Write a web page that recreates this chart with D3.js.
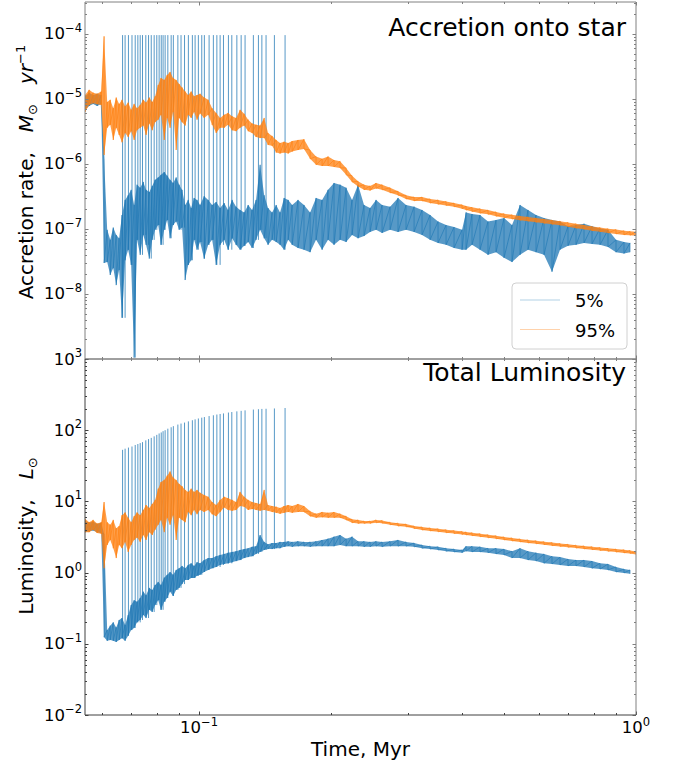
<!DOCTYPE html>
<html>
<head>
<meta charset="utf-8">
<script src="https://cdnjs.cloudflare.com/ajax/libs/d3/7.8.5/d3.min.js"></script>
<style>
body { margin: 0; background: #fff; }
svg text { font-family: "DejaVu Sans", sans-serif; fill: #000; }
</style>
</head>
<body>
<div id="chart"></div>
<script>
// Values. Each series is kept as the low / high edge of its
// noise band at every sampled time (Myr).
const time = [
  0.0548, 0.0560, 0.0572, 0.0584, 0.0597, 0.0606, 0.0616, 0.0626, 0.0636, 0.0646,
  0.0656, 0.0666, 0.0677, 0.0688, 0.0699, 0.0710, 0.0721, 0.0733, 0.0745, 0.0756,
  0.0769, 0.0781, 0.0793, 0.0806, 0.0818, 0.0832, 0.0845, 0.0858, 0.0872, 0.0886,
  0.0900, 0.0914, 0.0929, 0.0944, 0.0959, 0.0974, 0.0989, 0.1005, 0.1027, 0.1049,
  0.1071, 0.1094, 0.1117, 0.1141, 0.1165, 0.1190, 0.1215, 0.1241, 0.1268, 0.1295,
  0.1322, 0.1350, 0.1379, 0.1409, 0.1438, 0.1469, 0.1501, 0.1532, 0.1565, 0.1599,
  0.1633, 0.1684, 0.1738, 0.1795, 0.1852, 0.1912, 0.1973, 0.2036, 0.2102, 0.2170,
  0.2239, 0.2311, 0.2385, 0.2462, 0.2541, 0.2623, 0.2736, 0.2853, 0.2976, 0.3105,
  0.3238, 0.3378, 0.3523, 0.3675, 0.3833, 0.3998, 0.4083, 0.4214, 0.4395, 0.4584,
  0.4782, 0.4988, 0.5202, 0.5427, 0.5660, 0.5904, 0.6158, 0.6423, 0.6700, 0.6988,
  0.7289, 0.7603, 0.7931, 0.8272, 0.8628, 0.9000, 0.9387, 0.9689, 1.0
];

// accretion rate, 95%
const acc95Hi = [
  1.15e-5, 1.38e-5, 1.25e-5, 1.2e-5, 1.3e-5, 9.2e-5, 9e-6, 9.7e-6, 7.2e-6, 1.05e-5,
  8.4e-6, 9.7e-6, 7.7e-6, 8.8e-6, 6.8e-6, 8.4e-6, 7.2e-6, 8.1e-6, 9.7e-6, 8.8e-6,
  1.05e-5, 9e-6, 1.1e-5, 1.64e-5, 2.1e-5, 1.96e-5, 2.34e-5, 2.6e-5, 2.1e-5, 1.96e-5,
  1.7e-5, 1.5e-5, 1.3e-5, 1.15e-5, 1.3e-5, 1.1e-5, 1.15e-5, 1.2e-5, 1.05e-5, 9.7e-6,
  7.2e-6, 6.1e-6, 5.1e-6, 5.7e-6, 6.1e-6, 5.4e-6, 5.1e-6, 6.8e-6, 5.9e-6, 4.8e-6,
  4.2e-6, 4e-6, 3.9e-6, 5.1e-6, 3e-6, 2.7e-6, 2.34e-6, 2.1e-6, 2.2e-6, 2.1e-6,
  2.25e-6, 2.34e-6, 2.4e-6, 1.64e-6, 1.3e-6, 1.2e-6, 1.3e-6, 1.15e-6, 1.1e-6, 8.7e-7,
  6.6e-7, 5.4e-7, 4.8e-7, 4.6e-7, 5.1e-7, 4.8e-7, 4.3e-7, 3.8e-7, 3.3e-7, 3.1e-7,
  3.1e-7, 2.9e-7, 2.8e-7, 2.65e-7, 2.5e-7, 2.35e-7, 2.25e-7, 2.15e-7, 2.05e-7, 1.95e-7,
  1.83e-7, 1.72e-7, 1.65e-7, 1.58e-7, 1.53e-7, 1.47e-7, 1.42e-7, 1.37e-7, 1.32e-7, 1.26e-7,
  1.2e-7, 1.15e-7, 1.09e-7, 1.05e-7, 1.01e-7, 9.8e-8, 9.4e-8, 9.2e-8, 9.1e-8
];
const acc95Lo = [
  6.3e-6, 8.1e-6, 8.6e-6, 8.3e-6, 8.1e-6, 1.37e-6, 3.6e-6, 4e-6, 2.34e-6, 3.6e-6,
  2.8e-6, 2.15e-6, 3e-6, 2.6e-6, 3.2e-6, 2.34e-6, 3.3e-6, 3.6e-6, 3.9e-6, 2.8e-6,
  4.2e-6, 3.3e-6, 4.4e-6, 4.8e-6, 5.7e-6, 2.34e-6, 5.1e-6, 3.6e-6, 6.3e-6, 1.64e-6,
  5.1e-6, 4.4e-6, 3.9e-6, 5.7e-6, 5.1e-6, 6.3e-6, 4.8e-6, 6e-6, 5.1e-6, 5.7e-6,
  4e-6, 3e-6, 3.6e-6, 3.6e-6, 4e-6, 3.3e-6, 3.2e-6, 3.6e-6, 3.9e-6, 3.2e-6,
  3e-6, 2.6e-6, 2.5e-6, 2.5e-6, 1.96e-6, 1.9e-6, 1.5e-6, 1.45e-6, 1.5e-6, 1.45e-6,
  1.55e-6, 1.64e-6, 1.7e-6, 1.2e-6, 9.7e-7, 9.3e-7, 9.3e-7, 9e-7, 8.7e-7, 6.8e-7,
  5.3e-7, 4.5e-7, 4e-7, 3.9e-7, 4.2e-7, 4e-7, 3.6e-7, 3.3e-7, 2.9e-7, 2.7e-7,
  2.7e-7, 2.5e-7, 2.4e-7, 2.3e-7, 2.2e-7, 2.05e-7, 1.95e-7, 1.85e-7, 1.75e-7, 1.68e-7,
  1.57e-7, 1.49e-7, 1.42e-7, 1.36e-7, 1.32e-7, 1.27e-7, 1.22e-7, 1.18e-7, 1.14e-7, 1.08e-7,
  1.03e-7, 9.9e-8, 9.4e-8, 9.1e-8, 8.7e-8, 8.4e-8, 8.1e-8, 8.0e-8, 7.9e-8
];

// accretion rate, 5%
const acc5Hi = [
  1.1e-5, 1.25e-5, 1.15e-5, 1.2e-5, 1.15e-5, 1.2e-6, 9.7e-8, 6.8e-8, 1.05e-7, 8.1e-8,
  7.2e-8, 1.64e-7, 2.8e-7, 3.3e-7, 4.0e-7, 2.34e-7, 4.8e-7, 4.3e-7, 5.3e-7, 4.0e-7,
  3.7e-7, 4.6e-7, 5.7e-7, 6.2e-7, 6.8e-7, 7.5e-7, 6.6e-7, 5.7e-7, 5.1e-7, 6.2e-7,
  4.8e-7, 4.0e-7, 2.34e-7, 2.8e-7, 2.1e-7, 3.0e-7, 2.8e-7, 2.34e-7, 3.2e-7, 2.8e-7,
  2.34e-7, 2.6e-7, 2.1e-7, 2.5e-7, 1.96e-7, 2.8e-7, 2.2e-7, 1.96e-7, 1.8e-7, 2.34e-7,
  1.96e-7, 2.8e-7, 9.7e-7, 3.3e-7, 2.1e-7, 1.8e-7, 2.34e-7, 1.8e-7, 3.0e-7, 2.8e-7,
  2.34e-7, 2.8e-7, 2.34e-7, 1.8e-7, 3.0e-7, 2.8e-7, 4.0e-7, 5.1e-7, 4.8e-7, 4.3e-7,
  2.8e-7, 4.8e-7, 2.34e-7, 2.1e-7, 2.8e-7, 2.34e-7, 2.2e-7, 3.0e-7, 2.34e-7, 2.2e-7,
  1.96e-7, 1.64e-7, 1.3e-7, 1.15e-7, 1.07e-7, 9.7e-8, 1.8e-7, 1.7e-7, 1.64e-7, 1.3e-7,
  1.37e-7, 1.47e-7, 1.15e-7, 2.34e-7, 1.96e-7, 1.64e-7, 1.47e-7, 1.37e-7, 1.3e-7, 1.1e-7,
  1.15e-7, 1.2e-7, 1.1e-7, 1.02e-7, 9.7e-8, 6.8e-8, 6.3e-8, 6.1e-8, null
];
const acc5Lo = [
  6.8e-6, 7.8e-6, 8.4e-6, 7.8e-6, 8.4e-6, 3e-8, 3.1e-8, 1.96e-8, 2.5e-8, 1.37e-8,
  2.34e-8, 4.3e-9, 3.3e-8, 4.8e-8, 2.8e-8, 1.05e-9, 6.8e-8, 4.0e-8, 8.1e-8, 5.7e-8,
  3.5e-8, 6.8e-8, 9.7e-8, 1.15e-7, 5.7e-8, 9.7e-8, 1.37e-7, 7.2e-8, 1.15e-7, 1.3e-7,
  9.7e-8, 1.05e-7, 1.64e-8, 2.8e-8, 3.3e-8, 6.8e-8, 4.8e-8, 6.3e-8, 3.5e-8, 5.7e-8,
  6.8e-8, 2.8e-8, 5.7e-8, 6.8e-8, 4.8e-8, 7.2e-8, 5.7e-8, 4.8e-8, 5.5e-8, 6.3e-8,
  5.1e-8, 6.8e-8, 9.7e-8, 7.2e-8, 5.7e-8, 6.8e-8, 6.3e-8, 5.7e-8, 4.8e-8, 6.8e-8,
  5.7e-8, 5.1e-8, 4.8e-8, 4.4e-8, 6.8e-8, 4.8e-8, 6.8e-8, 5.7e-8, 6.8e-8, 6.3e-8,
  8.1e-8, 7.2e-8, 7.8e-8, 9e-8, 9.7e-8, 8.7e-8, 9.7e-8, 9e-8, 9.7e-8, 9e-8,
  8.1e-8, 6.8e-8, 6.1e-8, 5.7e-8, 5.1e-8, 4.8e-8, 4.8e-8, 5.7e-8, 4.8e-8, 4.0e-8,
  4.4e-8, 3.6e-8, 3.1e-8, 4.0e-8, 4.8e-8, 4.4e-8, 4.0e-8, 2.2e-8, 4.8e-8, 5.5e-8,
  5.7e-8, 6.1e-8, 5.9e-8, 5.7e-8, 5.3e-8, 4.4e-8, 4.2e-8, 4.4e-8, null
];

// total luminosity, 95%
const lum95Hi = [
  5.7, 5.1, 5.5, 4.9, 5.1, 9.8, 5.1, 4.7, 5.5, 4.2,
  4.5, 6.4, 7.0, 5.9, 5.1, 6.2, 7.0, 6.4, 7.6, 8.9,
  8.1, 9.2, 10.5, 15.1, 18.7, 20, 23, 26.3, 21.6, 20,
  17.6, 16.3, 14.5, 13.6, 15.1, 13.6, 14.5, 13.2, 12.3, 11.6,
  9.8, 8.9, 10.5, 11.6, 11.1, 10.5, 9.8, 13.6, 11.6, 10.5,
  9.8, 9.5, 9.2, 14.5, 8.9, 8.6, 8.4, 8.1, 8.6, 8.9,
  8.6, 9.2, 8.6, 7.3, 6.7, 7.1, 6.9, 7.1, 6.7, 6.2,
  5.6, 5.5, 5.3, 5.3, 5.5, 5.4, 5.1, 4.95, 4.8, 4.5,
  4.37, 4.24, 4.12, 4.0, 3.89, 3.78, 3.73, 3.63, 3.52, 3.40,
  3.29, 3.17, 3.07, 2.97, 2.88, 2.80, 2.72, 2.64, 2.56, 2.50,
  2.43, 2.37, 2.31, 2.25, 2.19, 2.14, 2.09, 2.05, 1.98
];
const lum95Lo = [
  3.7, 3.7, 4.0, 3.6, 3.5, 1.15, 2.44, 2.87, 2.2, 1.6,
  2.44, 2.2, 2.7, 1.95, 2.44, 2.87, 3.1, 2.7, 3.37, 2.87,
  3.7, 3.37, 4.0, 4.7, 5.5, 3.7, 5.9, 4.7, 6.4, 2.87,
  5.9, 5.5, 5.1, 7.1, 6.4, 7.6, 6.6, 7.6, 7.1, 7.6,
  6.6, 6.2, 7.1, 8.2, 7.6, 7.4, 7.6, 8.6, 8.4, 7.6,
  7.8, 7.6, 7.4, 7.6, 7.4, 7.1, 6.9, 6.7, 6.9, 7.1,
  6.9, 7.1, 7.1, 6.2, 5.9, 6.0, 5.9, 5.9, 5.9, 5.5,
  5.0, 4.9, 4.9, 4.9, 5.0, 4.95, 4.7, 4.5, 4.4, 4.15,
  3.96, 3.85, 3.74, 3.63, 3.53, 3.43, 3.38, 3.30, 3.19, 3.08,
  2.98, 2.88, 2.78, 2.70, 2.61, 2.54, 2.47, 2.39, 2.33, 2.27,
  2.21, 2.15, 2.10, 2.04, 1.99, 1.94, 1.89, 1.86, 1.80
];

// total luminosity, 5%
const lum5Hi = [
  5.3, 5.0, 5.2, 4.8, 5.0, 3.5, 0.156, 0.18, 0.2, 0.17,
  0.216, 0.23, 0.184, 0.254, 0.35, 0.41, 0.39, 0.44, 0.54, 0.48,
  0.61, 0.57, 0.67, 0.74, 0.67, 0.85, 0.93, 1.02, 0.93, 1.09,
  1.15, 1.24, 1.15, 1.28, 1.35, 1.24, 1.4, 1.35, 1.5, 1.6,
  1.6, 1.7, 1.77, 1.83, 1.9, 1.95, 2.0, 2.08, 2.14, 2.2,
  2.3, 2.35, 3.37, 2.7, 2.5, 2.6, 2.6, 2.7, 2.7, 2.75,
  2.7, 2.75, 2.7, 2.7, 2.75, 2.87, 3.0, 3.2, 3.37, 3.0,
  3.2, 2.75, 2.75, 2.7, 2.75, 2.7, 2.75, 2.87, 2.7, 2.6,
  2.44, 2.35, 2.3, 2.2, 2.14, 2.08, 2.35, 2.35, 2.3, 2.2,
  2.2, 2.14, 2.0, 2.2, 2.0, 1.9, 1.83, 1.7, 1.65, 1.55,
  1.5, 1.5, 1.45, 1.35, 1.32, 1.2, 1.12, 1.09, null
];
const lum5Lo = [
  3.7, 3.8, 3.9, 3.7, 3.6, 0.124, 0.11, 0.113, 0.11, 0.106,
  0.113, 0.12, 0.11, 0.13, 0.156, 0.167, 0.2, 0.216, 0.254, 0.23,
  0.30, 0.28, 0.35, 0.41, 0.30, 0.39, 0.44, 0.54, 0.47, 0.57,
  0.61, 0.69, 0.79, 0.79, 0.84, 0.84, 0.9, 0.93, 1.02, 1.09,
  1.15, 1.2, 1.28, 1.32, 1.35, 1.4, 1.45, 1.5, 1.6, 1.65,
  1.7, 1.83, 1.95, 2.08, 2.14, 2.14, 2.2, 2.2, 2.3, 2.35,
  2.3, 2.35, 2.35, 2.3, 2.35, 2.35, 2.35, 2.35, 2.44, 2.35,
  2.35, 2.35, 2.3, 2.3, 2.35, 2.3, 2.35, 2.35, 2.35, 2.3,
  2.2, 2.14, 2.08, 2.0, 1.95, 1.9, 2.0, 1.95, 1.95, 1.9,
  1.83, 1.77, 1.6, 1.6, 1.5, 1.45, 1.35, 1.32, 1.28, 1.24,
  1.24, 1.2, 1.15, 1.12, 1.09, 1.02, 0.99, 0.96, null
];

// accretion bursts of the 5% run
const spikeTimes = [
  0.0668, 0.0677, 0.0689, 0.0702, 0.0714, 0.0724, 0.0733, 0.0742, 0.0755, 0.0766,
  0.0777, 0.0789, 0.0800, 0.0810, 0.0819, 0.0827, 0.0836, 0.0848, 0.0863, 0.0873,
  0.0894, 0.0909, 0.0926, 0.0945, 0.0965, 0.0979, 0.0996, 0.1014, 0.1028, 0.1054,
  0.1078, 0.1098, 0.1117, 0.1137, 0.1167, 0.1188, 0.1220, 0.1248, 0.1274, 0.1331,
  0.1367, 0.1392, 0.1423, 0.1487, 0.1573
];
const spikeLum = [
  53, 55, 57, 59, 62, 64, 66, 68, 72, 75,
  78, 82, 86, 90, 93, 97, 100, 105, 110, 114,
  120, 124, 128, 133, 138, 142, 146, 150, 153, 158,
  162, 166, 169, 172, 177, 180, 184, 187, 190, 195,
  197, 199, 200, 202, 205
];
const spikeAcc = 9.6e-5;

const xTickLabels = [[0.1, -1], [1, 0]];
const accLabels = [-8, -7, -6, -5, -4];
const lumLabels = [-2, -1, 0, 1, 2, 3];
const legendNames = ["5%", "95%"];

// ---- layout ----
const width = 676, height = 767;
const left = 85, right = 636;
const blue = "#1f77b4", orange = "#ff7f0e";

const svg = d3.select("#chart").append("svg")
    .attr("width", width)
    .attr("height", height);

const x = d3.scaleLog().domain([0.0548, 1]).range([left, right]);
const yAcc = d3.scaleLog().domain([1e-9, 3.1e-4]).range([359, 2]);
const yLum = d3.scaleLog().domain([1e-2, 1e3]).range([715, 359]);

// run through high then low edge at each time: reads as dense noise
function zigzag(hi, lo) {
    const pts = [];
    time.forEach((t, i) => {
        if (hi[i] == null) return;
        pts.push([t, hi[i]], [t, lo[i]]);
    });
    return pts;
}

function drawSeries(g, y, hi, lo, color) {
    const idx = d3.range(time.length).filter(i => hi[i] != null);
    const area = d3.area()
        .x(i => x(time[i]))
        .y0(i => y(lo[i]))
        .y1(i => y(hi[i]));
    g.append("path")
        .attr("d", area(idx))
        .attr("fill", color)
        .attr("fill-opacity", 0.75);
    const line = d3.line().x(d => x(d[0])).y(d => y(d[1]));
    g.append("path")
        .attr("d", line(zigzag(hi, lo)))
        .attr("fill", "none")
        .attr("stroke", color)
        .attr("stroke-width", 0.7)
        .attr("stroke-opacity", 0.9);
}

function drawSpikes(g, y, lo, peakOf) {
    spikeTimes.forEach((t, k) => {
        const i = Math.max(0, d3.bisectLeft(time, t) - 1);
        g.append("line")
            .attr("x1", x(t)).attr("x2", x(t))
            .attr("y1", y(lo[i])).attr("y2", y(peakOf(k)))
            .attr("stroke", blue)
            .attr("stroke-width", 1)
            .attr("stroke-opacity", 0.75);
    });
}

function powText(sel, exp, size) {
    sel.append("tspan").text("10");
    sel.append("tspan")
        .attr("dy", -size * 0.45)
        .attr("font-size", size * 0.7)
        .text(exp < 0 ? "\u2212" + (-exp) : String(exp));
}

const isMajor = v => Math.abs(Math.log10(v) - Math.round(Math.log10(v))) < 1e-6;

function drawPanel(id, y, parts, spineColors) {
    const [yb, yt] = y.range();
    svg.append("clipPath").attr("id", id)
        .append("rect")
        .attr("x", left).attr("y", yt)
        .attr("width", right - left).attr("height", yb - yt);
    const plot = svg.append("g").attr("clip-path", `url(#${id})`);

    drawSeries(plot, y, parts.hi5, parts.lo5, blue);
    drawSpikes(plot, y, parts.lo5, parts.peak);
    drawSeries(plot, y, parts.hi95, parts.lo95, orange);

    const axes = svg.append("g");
    // y ticks, left and right, pointing inward
    y.ticks().forEach(v => {
        const len = isMajor(v) ? 3.5 : 2;
        const yy = Math.round(y(v)) + 0.5;
        axes.append("line").attr("x1", left).attr("x2", left + len)
            .attr("y1", yy).attr("y2", yy).attr("stroke", spineColors.left);
        axes.append("line").attr("x1", right).attr("x2", right - len)
            .attr("y1", yy).attr("y2", yy).attr("stroke", spineColors.right);
    });
    // x ticks on top and bottom edges
    x.ticks().forEach(v => {
        const len = isMajor(v) ? 3.5 : 2;
        const xx = Math.round(x(v)) + 0.5;
        axes.append("line").attr("x1", xx).attr("x2", xx)
            .attr("y1", yb).attr("y2", yb - len).attr("stroke", spineColors.bottom);
        axes.append("line").attr("x1", xx).attr("x2", xx)
            .attr("y1", yt).attr("y2", yt + len).attr("stroke", spineColors.top);
    });
    // spines
    axes.append("line").attr("x1", left).attr("x2", right).attr("y1", yt).attr("y2", yt)
        .attr("stroke", spineColors.top);
    axes.append("line").attr("x1", right).attr("x2", right).attr("y1", yt).attr("y2", yb)
        .attr("stroke", spineColors.right);
    axes.append("line").attr("x1", left).attr("x2", left).attr("y1", yt).attr("y2", yb)
        .attr("stroke", spineColors.left);
    axes.append("line").attr("x1", left).attr("x2", right).attr("y1", yb).attr("y2", yb)
        .attr("stroke", spineColors.bottom);

    // y tick labels
    parts.labels.forEach(e => {
        const t = svg.append("text")
            .attr("x", left - 3)
            .attr("y", y(Math.pow(10, e)) + 5.5)
            .attr("text-anchor", "end")
            .attr("font-size", 16.5);
        powText(t, e, 16.5);
    });

    // panel title
    svg.append("text")
        .attr("x", 626).attr("y", parts.titleY)
        .attr("text-anchor", "end")
        .attr("font-size", 25)
        .text(parts.title);
}

drawPanel("clip-acc", yAcc, {
    hi5: acc5Hi, lo5: acc5Lo, hi95: acc95Hi, lo95: acc95Lo,
    peak: () => spikeAcc,
    labels: accLabels,
    title: "Accretion onto star", titleY: 36
}, {left: "#808080", right: "#808080", top: "#808080", bottom: "#808080"});

drawPanel("clip-lum", yLum, {
    hi5: lum5Hi, lo5: lum5Lo, hi95: lum95Hi, lo95: lum95Lo,
    peak: k => spikeLum[k],
    labels: lumLabels,
    title: "Total Luminosity", titleY: 381
}, {left: "#404040", right: "#808080", top: "#808080", bottom: "#404040"});

// x tick labels
xTickLabels.forEach(([v, e]) => {
    const t = svg.append("text")
        .attr("x", x(v))
        .attr("y", 733)
        .attr("text-anchor", "middle")
        .attr("font-size", 16.5);
    powText(t, e, 16.5);
});

// axis titles
svg.append("text")
    .attr("x", (left + right) / 2).attr("y", 756)
    .attr("text-anchor", "middle")
    .attr("font-size", 20)
    .text("Time, Myr");

const accTitle = svg.append("text")
    .attr("transform", "translate(33,172) rotate(-90)")
    .attr("text-anchor", "middle")
    .attr("font-size", 20);
accTitle.append("tspan").text("Accretion rate,\u2002\u2002");
accTitle.append("tspan").attr("font-style", "italic").text("M");
accTitle.append("tspan").attr("font-size", 13).attr("dy", 4).text("\u2299");
accTitle.append("tspan").attr("dy", -4).text("\u2002\u2002");
accTitle.append("tspan").attr("font-style", "italic").text("yr");
accTitle.append("tspan").attr("font-size", 13).attr("dy", -8).text("\u22121");

const lumTitle = svg.append("text")
    .attr("transform", "translate(33,536) rotate(-90)")
    .attr("text-anchor", "middle")
    .attr("font-size", 20);
lumTitle.append("tspan").text("Luminosity,\u2002\u2002");
lumTitle.append("tspan").attr("font-style", "italic").text("L");
lumTitle.append("tspan").attr("font-size", 13).attr("dy", 4).text("\u2299");

// legend
const legend = svg.append("g");
legend.append("rect")
    .attr("x", 512).attr("y", 283)
    .attr("width", 115).attr("height", 66)
    .attr("rx", 4)
    .attr("fill", "#fff").attr("fill-opacity", 0.8)
    .attr("stroke", "#d0d0d0");
legendNames.forEach((name, i) => {
    const yy = 300 + i * 29.5;
    legend.append("line")
        .attr("x1", 520).attr("x2", 560)
        .attr("y1", yy).attr("y2", yy)
        .attr("stroke", i ? orange : blue)
        .attr("stroke-width", 1.2)
        .attr("stroke-opacity", 0.35);
    legend.append("text")
        .attr("x", 575).attr("y", yy + 7)
        .attr("font-size", 18)
        .text(name);
});
</script>
</body>
</html>
